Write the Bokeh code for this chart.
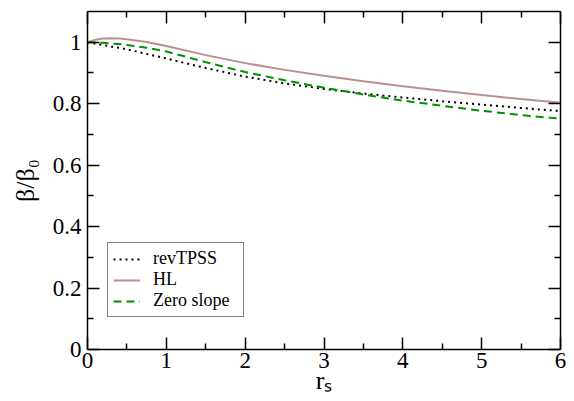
from bokeh.plotting import figure
from bokeh.models import (Range1d, LinearAxis, FixedTicker, CustomJSTickFormatter,
                          Legend, LegendItem, ColumnDataSource)
from bokeh.embed import file_html
from bokeh.resources import INLINE

# ---- data ----
rs = [0, 0.1, 0.2, 0.3, 0.4, 0.5, 0.75, 1, 1.5, 2, 2.5, 3, 3.5, 4, 4.5, 5, 5.5, 6]
hl = [1.000, 1.008, 1.012, 1.013, 1.012, 1.010, 1.001, 0.988, 0.958, 0.932, 0.910, 0.891, 0.873, 0.857, 0.842, 0.828, 0.815, 0.803]
zero_slope = [1.000, 0.9995, 0.998, 0.996, 0.994, 0.991, 0.982, 0.970, 0.935, 0.903, 0.876, 0.852, 0.830, 0.810, 0.793, 0.777, 0.763, 0.751]
revtpss = [1.000, 0.995, 0.991, 0.986, 0.982, 0.977, 0.962, 0.947, 0.916, 0.888, 0.866, 0.848, 0.833, 0.820, 0.808, 0.797, 0.786, 0.776]

x_ticks = [0, 1, 2, 3, 4, 5, 6]
x_minor = [0.5, 1.5, 2.5, 3.5, 4.5, 5.5]
y_ticks = [0, 0.2, 0.4, 0.6, 0.8, 1.0]
y_minor = [0.1, 0.3, 0.5, 0.7, 0.9]

x_title = "rₛ"
y_title = "β/β₀"
series_names = ["revTPSS", "HL", "Zero slope"]

FONT = "Liberation Serif"

p = figure(width=574, height=401, output_backend="svg", toolbar_location=None,
           x_range=Range1d(0, 6), y_range=Range1d(0, 1.1),
           min_border_left=87, min_border_right=14, min_border_top=11, min_border_bottom=52,
           x_axis_location=None, y_axis_location=None)
p.xgrid.visible = False
p.ygrid.visible = False
p.outline_line_color = None
p.background_fill_color = "white"
p.border_fill_color = "white"

fmt = CustomJSTickFormatter(code="return String(Math.round(tick*10)/10);")
blank = CustomJSTickFormatter(code="return '';")


def make_axis(ticks, minor, show_labels):
    ax = LinearAxis(ticker=FixedTicker(ticks=ticks, minor_ticks=minor))
    ax.axis_line_color = "black"
    ax.axis_line_width = 1.5
    ax.major_tick_line_color = "black"
    ax.major_tick_line_width = 1.5
    ax.minor_tick_line_color = "black"
    ax.minor_tick_line_width = 1.5
    ax.major_tick_in = 12
    ax.major_tick_out = 0
    ax.minor_tick_in = 6
    ax.minor_tick_out = 0
    if show_labels:
        ax.formatter = fmt
        ax.major_label_text_font = FONT
        ax.major_label_text_font_size = "23px"
        ax.major_label_text_color = "black"
        ax.axis_label_text_font = FONT
        ax.axis_label_text_font_size = "26px"
        ax.axis_label_text_font_style = "normal"
        ax.axis_label_text_color = "black"
    else:
        ax.formatter = blank
        ax.major_label_text_font_size = "0px"
        ax.major_label_standoff = 0
    return ax


xb = make_axis(x_ticks, x_minor, True)
xb.major_label_standoff = 3
xb.axis_label = x_title
xb.axis_label_standoff = -5
yl = make_axis(y_ticks, y_minor, True)
yl.major_label_standoff = 6
yl.axis_label = y_title
yl.axis_label_standoff = 10
xa = make_axis(x_ticks, x_minor, False)
yr = make_axis(y_ticks, y_minor, False)
p.add_layout(xb, "below")
p.add_layout(yl, "left")
p.add_layout(xa, "above")
p.add_layout(yr, "right")

src = ColumnDataSource(dict(rs=rs, hl=hl, zs=zero_slope, rt=revtpss))
r_rt = p.line("rs", "rt", source=src, line_color="black", line_width=2, line_dash="2 4")
r_hl = p.line("rs", "hl", source=src, line_color="#bc8f8f", line_width=2)
r_zs = p.line("rs", "zs", source=src, line_color="#009000", line_width=2, line_dash="8 5")

legend = Legend(items=[LegendItem(label=series_names[0], renderers=[r_rt]),
                       LegendItem(label=series_names[1], renderers=[r_hl]),
                       LegendItem(label=series_names[2], renderers=[r_zs])],
                location=(20, 32))
legend.label_text_font = FONT
legend.label_text_font_size = "18px"
legend.label_text_color = "black"
legend.border_line_color = "black"
legend.border_line_width = 1
legend.background_fill_color = "white"
legend.background_fill_alpha = 1
legend.padding = 5
legend.spacing = 0
legend.margin = 0
legend.glyph_width = 27
legend.glyph_height = 20
legend.label_height = 20
legend.label_width = 85
legend.label_standoff = 13
p.add_layout(legend, "center")

open("out.html", "w").write(file_html(p, INLINE))
